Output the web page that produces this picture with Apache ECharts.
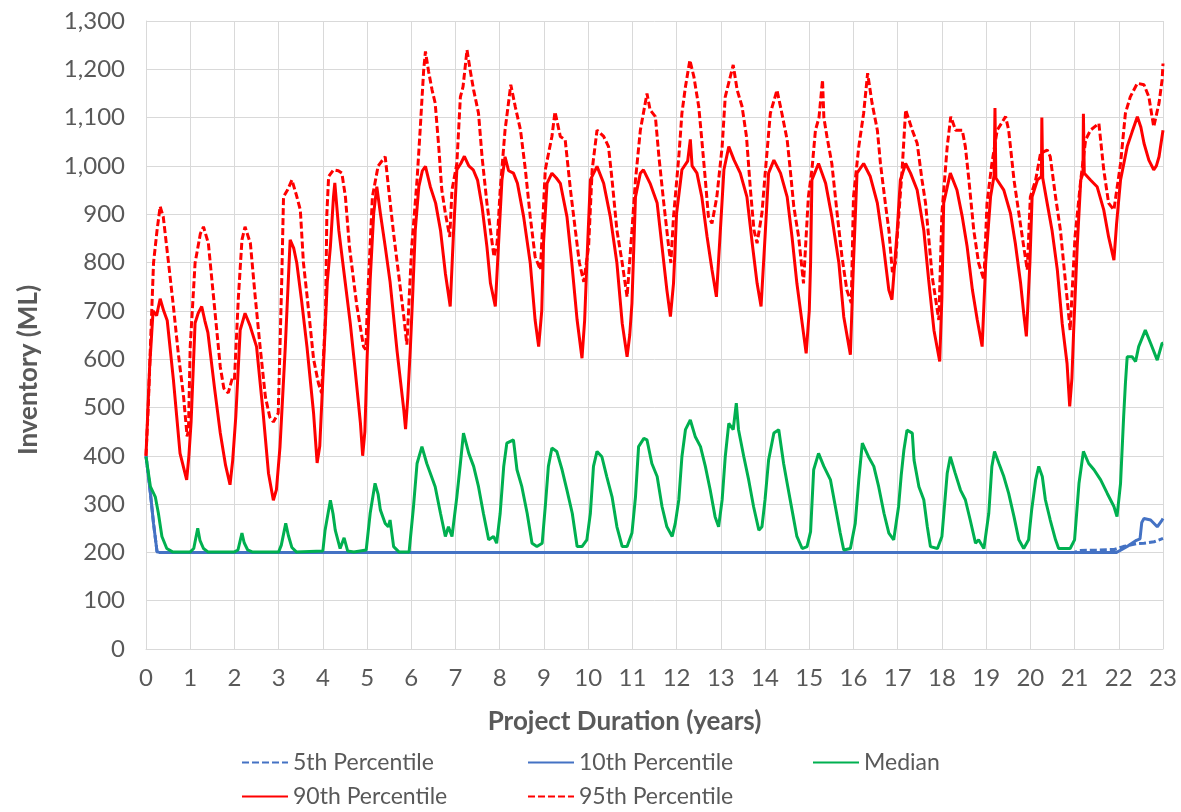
<!DOCTYPE html>
<html>
<head>
<meta charset="utf-8">
<title>Inventory percentiles</title>
<script src="https://cdn.jsdelivr.net/npm/echarts@6.0.0/dist/echarts.min.js"></script>
<style>
  html, body { margin: 0; padding: 0; background: #ffffff; }
  #chart { width: 1181px; height: 812px; }
</style>
</head>
<body>
<div id="chart"></div>
<script>
// Inventory (ML) percentiles over the project life, points as [year, ML]
const p5 = [[0,400],[0.1,322],[0.17,260],[0.25,201],[0.3,200],[21.0,200],[21.1,204],[21.5,205],[21.9,206],[22.1,212],[22.4,218],[22.57,219],[22.8,222],[23.0,229]];

const p10 = [[0,400],[0.1,322],[0.17,260],[0.25,201],[0.3,200],[21.95,200],[22.05,205],[22.22,214],[22.4,225],[22.48,228],[22.52,262],[22.57,270],[22.72,267],[22.87,253],[22.98,267],[23.0,270]];

const median = [[0,398],[0.1,336],[0.21,315],[0.28,281],[0.36,233],[0.47,208],[0.6,201],[1.0,201],[1.08,208],[1.17,250],[1.22,225],[1.3,208],[1.4,201],[2.0,201],[2.08,205],[2.17,240],[2.22,220],[2.3,205],[2.4,201],[3.0,201],[3.06,215],[3.16,260],[3.22,235],[3.3,210],[3.4,201],[4.0,203],[4.05,246],[4.17,308],[4.23,280],[4.28,246],[4.39,208],[4.48,230],[4.56,203],[4.7,201],[4.98,205],[5.07,281],[5.18,343],[5.25,320],[5.3,288],[5.41,260],[5.48,253],[5.52,267],[5.6,212],[5.72,201],[5.95,201],[6.05,295],[6.13,384],[6.24,419],[6.35,384],[6.43,364],[6.54,336],[6.66,281],[6.77,233],[6.84,253],[6.92,233],[7.03,315],[7.11,384],[7.18,447],[7.3,405],[7.41,378],[7.52,336],[7.63,281],[7.75,226],[7.86,233],[7.93,219],[8.01,281],[8.09,378],[8.16,426],[8.31,433],[8.39,371],[8.5,336],[8.62,281],[8.73,219],[8.84,212],[8.96,219],[9.03,295],[9.1,378],[9.18,416],[9.29,409],[9.41,371],[9.52,329],[9.64,281],[9.75,212],[9.86,212],[9.97,226],[10.05,281],[10.12,378],[10.2,409],[10.31,398],[10.42,357],[10.54,315],[10.65,253],[10.77,212],[10.88,212],[10.99,240],[11.07,315],[11.14,419],[11.26,436],[11.33,433],[11.44,384],[11.56,357],[11.67,295],[11.78,253],[11.9,233],[11.97,260],[12.05,309],[12.12,398],[12.2,454],[12.31,474],[12.42,440],[12.54,419],[12.65,378],[12.76,329],[12.87,274],[12.95,253],[13.03,309],[13.1,398],[13.18,467],[13.28,454],[13.35,509],[13.4,454],[13.52,398],[13.63,350],[13.74,295],[13.86,246],[13.93,253],[14.0,309],[14.08,391],[14.2,447],[14.31,454],[14.42,384],[14.5,343],[14.61,288],[14.72,233],[14.84,208],[14.95,212],[15.03,243],[15.1,371],[15.21,405],[15.33,378],[15.48,350],[15.59,295],[15.7,240],[15.78,205],[15.93,208],[16.04,260],[16.12,350],[16.2,426],[16.34,398],[16.46,378],[16.57,336],[16.69,281],[16.8,240],[16.91,226],[17.02,295],[17.08,360],[17.14,412],[17.21,453],[17.33,447],[17.37,391],[17.48,336],[17.59,309],[17.67,253],[17.74,212],[17.9,208],[18.0,233],[18.12,364],[18.19,398],[18.3,364],[18.42,329],[18.53,309],[18.64,267],[18.76,219],[18.83,226],[18.95,208],[19.06,281],[19.13,378],[19.19,409],[19.29,384],[19.4,357],[19.51,322],[19.63,274],[19.74,226],[19.85,208],[19.96,226],[20.03,288],[20.12,350],[20.19,378],[20.27,357],[20.34,309],[20.45,267],[20.57,226],[20.64,208],[20.9,208],[21.0,226],[21.1,343],[21.2,409],[21.32,384],[21.44,371],[21.59,350],[21.74,322],[21.89,295],[21.96,274],[22.04,343],[22.11,481],[22.15,550],[22.19,605],[22.3,605],[22.38,595],[22.45,626],[22.6,660],[22.72,633],[22.87,598],[22.98,633],[23.0,633]];

const p90 = [[0,400],[0.08,580],[0.16,700],[0.24,690],[0.32,725],[0.4,700],[0.48,680],[0.62,557],[0.77,405],[0.92,350],[0.97,400],[1.02,470],[1.11,675],[1.18,695],[1.26,709],[1.33,680],[1.4,655],[1.55,540],[1.68,447],[1.8,380],[1.9,340],[1.96,390],[2.03,480],[2.13,660],[2.24,695],[2.35,670],[2.5,626],[2.65,488],[2.77,364],[2.88,308],[2.95,330],[3.03,418],[3.15,625],[3.26,847],[3.34,830],[3.41,799],[3.52,720],[3.64,626],[3.79,488],[3.87,385],[3.93,420],[4.0,560],[4.1,760],[4.17,833],[4.24,936],[4.27,965],[4.36,867],[4.47,785],[4.62,674],[4.73,578],[4.85,467],[4.9,400],[4.95,450],[5.0,600],[5.07,764],[5.15,902],[5.22,957],[5.3,902],[5.41,833],[5.52,760],[5.68,615],[5.83,495],[5.87,455],[5.92,520],[5.98,626],[6.03,730],[6.09,867],[6.17,957],[6.25,990],[6.32,999],[6.43,957],[6.55,923],[6.66,867],[6.77,778],[6.88,709],[6.95,853],[7.03,992],[7.12,1005],[7.2,1020],[7.3,1000],[7.4,992],[7.5,970],[7.6,916],[7.71,833],[7.79,757],[7.9,709],[7.97,833],[8.05,971],[8.12,1019],[8.2,990],[8.31,985],[8.4,964],[8.54,895],[8.69,799],[8.8,681],[8.88,626],[8.95,700],[8.99,840],[9.07,964],[9.18,985],[9.28,975],[9.37,964],[9.52,895],[9.63,799],[9.75,681],[9.86,602],[9.92,680],[9.97,799],[10.05,971],[10.2,999],[10.35,964],[10.5,895],[10.65,799],[10.77,674],[10.88,605],[10.94,650],[10.99,716],[11.07,936],[11.18,985],[11.25,992],[11.4,964],[11.56,923],[11.67,833],[11.78,743],[11.86,688],[11.93,757],[12.0,902],[12.12,992],[12.25,1010],[12.31,1055],[12.35,1000],[12.46,985],[12.57,936],[12.69,853],[12.8,785],[12.9,729],[12.99,867],[13.07,992],[13.18,1040],[13.3,1012],[13.44,985],[13.59,936],[13.71,840],[13.82,757],[13.91,709],[14.0,853],[14.08,985],[14.2,1012],[14.35,985],[14.5,936],[14.61,853],[14.72,757],[14.84,674],[14.93,612],[15.0,700],[15.03,799],[15.06,971],[15.21,1005],[15.37,964],[15.51,895],[15.67,799],[15.78,688],[15.93,609],[16.0,799],[16.08,985],[16.23,1005],[16.38,978],[16.54,923],[16.68,833],[16.8,743],[16.87,723],[16.99,867],[17.06,971],[17.18,1005],[17.29,985],[17.44,950],[17.59,867],[17.7,764],[17.82,660],[17.95,595],[18.0,729],[18.04,923],[18.19,985],[18.34,950],[18.46,895],[18.57,833],[18.69,743],[18.8,681],[18.91,626],[18.99,799],[19.1,936],[19.18,980],[19.2,1120],[19.22,975],[19.4,950],[19.55,902],[19.66,840],[19.78,757],[19.85,695],[19.91,647],[19.99,799],[20.04,936],[20.16,971],[20.25,978],[20.26,1100],[20.28,975],[20.38,923],[20.49,867],[20.61,785],[20.72,674],[20.83,591],[20.89,502],[20.94,560],[20.98,660],[21.06,833],[21.14,971],[21.19,985],[21.2,1108],[21.22,985],[21.36,971],[21.51,957],[21.66,909],[21.77,853],[21.89,805],[21.95,880],[22.04,971],[22.19,1040],[22.3,1070],[22.42,1102],[22.5,1080],[22.57,1047],[22.68,1012],[22.79,992],[22.85,1000],[22.91,1019],[23.0,1074]];

const p95 = [[0,400],[0.05,500],[0.1,626],[0.17,799],[0.25,867],[0.32,916],[0.39,895],[0.51,799],[0.62,709],[0.73,612],[0.85,522],[0.93,440],[0.96,453],[1.0,626],[1.11,799],[1.23,860],[1.3,874],[1.41,840],[1.49,764],[1.6,660],[1.68,584],[1.76,540],[1.86,530],[1.95,560],[2.0,557],[2.09,729],[2.17,847],[2.24,874],[2.36,840],[2.47,729],[2.58,626],[2.7,522],[2.8,480],[2.88,470],[2.99,488],[3.07,764],[3.11,936],[3.2,950],[3.3,971],[3.4,940],[3.49,909],[3.56,800],[3.64,733],[3.79,600],[3.9,550],[3.97,530],[4.06,688],[4.09,900],[4.13,978],[4.24,992],[4.35,990],[4.43,985],[4.51,936],[4.6,833],[4.77,709],[4.92,626],[4.97,620],[5.02,740],[5.12,936],[5.25,1000],[5.41,1019],[5.49,950],[5.6,860],[5.71,778],[5.83,688],[5.9,630],[6.01,833],[6.13,971],[6.2,1074],[6.28,1199],[6.32,1237],[6.39,1196],[6.47,1157],[6.54,1130],[6.62,1040],[6.69,950],[6.77,902],[6.87,853],[6.92,950],[7.03,1005],[7.11,1143],[7.17,1164],[7.26,1240],[7.33,1199],[7.41,1157],[7.52,1109],[7.6,1019],[7.71,923],[7.79,867],[7.87,812],[7.94,840],[8.01,950],[8.12,1074],[8.25,1168],[8.35,1123],[8.47,1074],[8.58,992],[8.69,895],[8.8,812],[8.92,785],[9.03,992],[9.18,1061],[9.25,1112],[9.37,1061],[9.48,1054],[9.6,950],[9.71,867],[9.8,800],[9.9,760],[10.01,833],[10.09,992],[10.2,1074],[10.35,1061],[10.46,1040],[10.54,971],[10.65,867],[10.77,799],[10.88,729],[10.99,867],[11.07,971],[11.18,1074],[11.33,1150],[11.4,1116],[11.52,1102],[11.6,1019],[11.71,923],[11.82,833],[11.87,799],[11.93,895],[12.05,1019],[12.12,1109],[12.2,1164],[12.3,1219],[12.39,1185],[12.5,1123],[12.57,1054],[12.65,971],[12.72,895],[12.8,881],[12.91,936],[13.03,1040],[13.1,1143],[13.28,1209],[13.37,1157],[13.48,1123],[13.58,1061],[13.67,950],[13.75,867],[13.82,840],[13.93,902],[14.01,992],[14.12,1109],[14.27,1157],[14.38,1109],[14.5,1054],[14.57,992],[14.65,916],[14.76,853],[14.87,757],[14.98,936],[15.06,992],[15.14,1074],[15.22,1100],[15.3,1178],[15.33,1100],[15.4,1061],[15.51,1005],[15.63,902],[15.74,812],[15.85,743],[15.95,716],[16.0,936],[16.12,1040],[16.23,1109],[16.32,1192],[16.42,1130],[16.54,1074],[16.61,1005],[16.72,923],[16.8,867],[16.88,780],[16.95,800],[17.0,867],[17.1,992],[17.18,1116],[17.22,1119],[17.33,1074],[17.44,1047],[17.55,971],[17.63,923],[17.7,853],[17.78,771],[17.93,681],[18.0,902],[18.12,1040],[18.2,1102],[18.31,1074],[18.46,1074],[18.53,1040],[18.61,971],[18.72,867],[18.83,799],[18.95,764],[19.02,923],[19.13,1005],[19.25,1074],[19.44,1102],[19.51,1074],[19.63,971],[19.74,902],[19.85,833],[19.93,785],[20.0,936],[20.12,971],[20.23,1026],[20.38,1033],[20.45,1019],[20.57,936],[20.68,867],[20.79,764],[20.9,660],[21.01,853],[21.14,971],[21.25,1054],[21.36,1074],[21.55,1088],[21.66,992],[21.77,923],[21.89,909],[22.04,1005],[22.15,1109],[22.26,1143],[22.42,1171],[22.57,1168],[22.68,1143],[22.79,1081],[22.91,1130],[22.98,1178],[23.0,1212]];

const seriesNames = ['5th Percentile', '10th Percentile', 'Median', '90th Percentile', '95th Percentile'];
const yearTicks = { min: 0, max: 23, step: 1 };
const inventoryTicks = { min: 0, max: 1300, step: 100 };

const BLUE = '#4472C4';
const GREEN = '#00B050';
const RED = '#FF0000';
const TEXT = '#595959';
const GRID = '#D9D9D9';
const FONT = 'Lato, "Open Sans", sans-serif';
const DASH = [7, 3];

function lineSeries(name, data, color, dashed) {
  return {
    name: name,
    type: 'line',
    data: data,
    symbol: 'none',
    showSymbol: false,
    smooth: false,
    lineStyle: { color: color, width: 3, type: dashed ? DASH : 'solid' },
    itemStyle: { color: color },
    emphasis: { disabled: true }
  };
}

// one legend block per entry, laid out in two rows of three columns;
// the marker dot is hidden so only the line sample remains
function legendAt(name, left, top) {
  return {
    data: [name],
    left: left,
    top: top,
    padding: 0,
    itemWidth: 46,
    itemHeight: 14,
    itemGap: 5,
    selectedMode: false,
    itemStyle: { opacity: 0 },
    textStyle: { fontFamily: FONT, fontSize: 23, color: TEXT }
  };
}

const chart = echarts.init(document.getElementById('chart'), null, { renderer: 'canvas' });

chart.setOption({
  animation: false,
  backgroundColor: '#ffffff',
  grid: { left: 146, right: 18, top: 21, bottom: 163, containLabel: false },
  legend: [
    legendAt(seriesNames[0], 241, 751),
    legendAt(seriesNames[1], 527, 751),
    legendAt(seriesNames[2], 812, 751),
    legendAt(seriesNames[3], 241, 785),
    legendAt(seriesNames[4], 527, 785)
  ],
  xAxis: {
    type: 'value',
    min: yearTicks.min,
    max: yearTicks.max,
    interval: yearTicks.step,
    name: 'Project Duration (years)',
    nameLocation: 'middle',
    nameGap: 60,
    nameTextStyle: { fontFamily: FONT, fontSize: 26, fontWeight: 'bold', color: TEXT, padding: [0, 60, 0, 0] },
    axisLine: { show: true, lineStyle: { color: GRID, width: 1 } },
    axisTick: { show: false },
    axisLabel: { fontFamily: FONT, fontSize: 24, color: TEXT, margin: 17 },
    splitLine: { show: true, lineStyle: { color: GRID, width: 1 } }
  },
  yAxis: {
    type: 'value',
    min: inventoryTicks.min,
    max: inventoryTicks.max,
    interval: inventoryTicks.step,
    name: 'Inventory (ML)',
    nameLocation: 'middle',
    nameGap: 104,
    nameRotate: 90,
    nameTextStyle: { fontFamily: FONT, fontSize: 26, fontWeight: 'bold', color: TEXT, padding: [0, 70, 0, 0] },
    axisLine: { show: true, lineStyle: { color: GRID, width: 1 } },
    axisTick: { show: false },
    axisLabel: {
      fontFamily: FONT, fontSize: 24, color: TEXT, margin: 21,
      formatter: function (v) { return v.toLocaleString('en-US'); }
    },
    splitLine: { show: true, lineStyle: { color: GRID, width: 1 } }
  },
  series: [
    lineSeries(seriesNames[0], p5, BLUE, true),
    lineSeries(seriesNames[1], p10, BLUE, false),
    lineSeries(seriesNames[2], median, GREEN, false),
    lineSeries(seriesNames[3], p90, RED, false),
    lineSeries(seriesNames[4], p95, RED, true)
  ]
});
</script>
</body>
</html>
